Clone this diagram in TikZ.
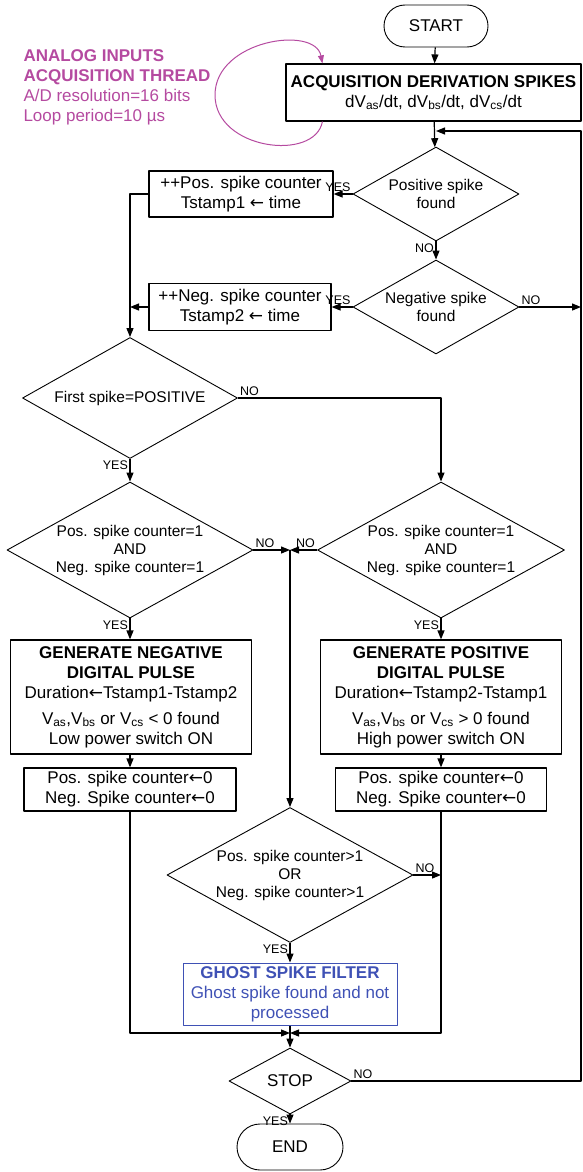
\documentclass[tikz,border=0pt]{standalone}
\usepackage{fontspec}
\setmainfont{Liberation Sans}
\newfontfamily\arrowfont{DejaVu Sans}
\newcommand{\getsarrow}{{\arrowfont ←}}
\usetikzlibrary{shapes.geometric,arrows.meta}
\definecolor{threadpink}{RGB}{181,74,160}
\definecolor{ghostblue}{RGB}{63,81,181}

\begin{document}
\begin{tikzpicture}[x=1pt, y=-1pt, line join=round, >={Triangle[length=9pt,width=7pt]},
  box/.style={draw, line width=1.2pt, align=center, inner sep=2pt, font=\fontsize{17}{20}\selectfont},
  decision/.style={draw, diamond, aspect=1.8, inner sep=0pt, line width=0.9pt, align=center, font=\fontsize{15.5}{18}\selectfont},
  terminal/.style={draw, rectangle, rounded corners=21pt, line width=0.9pt, minimum width=104pt, minimum height=42pt, font=\fontsize{17}{20}\selectfont},
  lbl/.style={font=\fontsize{12.5}{13}\selectfont, inner sep=1.5pt},
  arr/.style={->, line width=1.2pt}]
  \useasboundingbox (0,0) rectangle (582,1172);

  % Start and acquisition
  \node[terminal] (start) at (436,26) {START};
  \node[box, minimum width=295pt, minimum height=57pt] (acq) at (433.5,92.5)
    {\textbf{ACQUISITION DERIVATION SPIKES}\\dV\textsubscript{as}/dt, dV\textsubscript{bs}/dt, dV\textsubscript{cs}/dt};
  \node[anchor=west, align=left, text=threadpink, font=\fontsize{17}{20}\selectfont] (thread) at (20,87)
    {\textbf{ANALOG INPUTS}\\\textbf{ACQUISITION THREAD}\\A/D resolution=16 bits\\Loop period=10 µs};
  \draw[threadpink, line width=1pt, -{Triangle[length=8pt,width=6pt]}]
    ([xshift=37pt]acq.south west) .. controls (315,162) and (215,150) .. (215,95)
    .. controls (215,40) and (315,25) .. ([xshift=37pt]acq.north west);

  % Spike detection
  \node[decision, minimum width=166pt, minimum height=94pt] (pos) at (436,194) {Positive spike\\found};
  \node[box, minimum width=184pt, minimum height=46pt] (posinc) at (241,194) {++Pos. spike counter\\Tstamp1 \getsarrow\ time};
  \node[decision, minimum width=166pt, minimum height=94pt] (neg) at (436,307) {Negative spike\\found};
  \node[box, minimum width=182pt, minimum height=47pt] (neginc) at (240,307) {++Neg. spike counter\\Tstamp2 \getsarrow\ time};

  % Polarity tests
  \node[decision, minimum width=215pt, minimum height=121pt] (first) at (130,398) {First spike=POSITIVE};
  \node[decision, minimum width=246pt, minimum height=136pt] (chkL) at (130,550) {Pos. spike counter=1\\AND\\Neg. spike counter=1};
  \node[decision, minimum width=247pt, minimum height=136pt] (chkR) at (441,550) {Pos. spike counter=1\\AND\\Neg. spike counter=1};

  % Pulses
  \node[box, minimum width=241pt, minimum height=114pt] (pulseN) at (131,697)
    {\textbf{GENERATE NEGATIVE}\\\textbf{DIGITAL PULSE}\\Duration\getsarrow Tstamp1-Tstamp2\\[6pt]V\textsubscript{as},V\textsubscript{bs} or V\textsubscript{cs} < 0 found\\Low power switch ON};
  \node[box, minimum width=241pt, minimum height=114pt] (pulseP) at (441,697)
    {\textbf{GENERATE POSITIVE}\\\textbf{DIGITAL PULSE}\\Duration\getsarrow Tstamp2-Tstamp1\\[6pt]V\textsubscript{as},V\textsubscript{bs} or V\textsubscript{cs} > 0 found\\High power switch ON};
  \node[box, minimum width=212pt, minimum height=43pt] (resetL) at (130,789.5) {Pos. spike counter\getsarrow 0\\Neg. Spike counter\getsarrow 0};
  \node[box, minimum width=211pt, minimum height=43pt] (resetR) at (441,789.5) {Pos. spike counter\getsarrow 0\\Neg. Spike counter\getsarrow 0};

  % Ghost filter and end
  \node[decision, minimum width=246pt, minimum height=135pt] (multi) at (290,875) {Pos. spike counter>1\\OR\\Neg. spike counter>1};
  \node[box, draw=ghostblue, text=ghostblue, line width=1pt, minimum width=214pt, minimum height=62pt] (ghost) at (290,994)
    {\textbf{GHOST SPIKE FILTER}\\Ghost spike found and not\\processed};
  \node[decision, minimum width=122pt, minimum height=66pt, font=\fontsize{17}{20}\selectfont] (stop) at (290,1081) {STOP};
  \node[terminal, minimum width=106pt, minimum height=46pt, rounded corners=23pt] (end) at (290,1147) {END};

  \coordinate (rail) at (581,131);
  \coordinate (backin) at (436,131);
  \coordinate (merge) at (290,550);
  \coordinate (collect) at (290,1033);

  % Connectors
  \draw[arr] (start) -- (acq);
  \draw[arr] (acq) -- (pos);
  \draw[arr] (pos.west) node[lbl, above left]{YES} -- (posinc.east);
  \draw[arr] (posinc.west) -| (first.north);
  \draw[arr] (pos.south) node[lbl, below left]{NO} -- (neg.north);
  \draw[arr] (neg.west) node[lbl, above left]{YES} -- (neginc.east);
  \draw[arr] (neginc.west) -- (neginc.west -| first.north);
  \draw[arr] (neg.east) node[lbl, above right]{NO} -- (neg.east -| rail);
  \draw[arr] (first.east) node[lbl, above right]{NO} -| (chkR.north);
  \draw[arr] (first.south) node[lbl, below left]{YES} -- (chkL.north);
  \draw[arr] (chkL.east) node[lbl, above right]{NO} -- (merge);
  \draw[arr] (chkR.west) node[lbl, above left]{NO} -- (merge);
  \draw[arr] (merge) -- (multi.north);
  \draw[arr] (chkL.south) node[lbl, below left]{YES} -- (pulseN.north -| chkL.south);
  \draw[arr] (chkR.south) node[lbl, below left]{YES} -- (pulseP.north);
  \draw[arr] (pulseN.south -| resetL.north) -- (resetL.north);
  \draw[arr] (pulseP.south) -- (resetR.north);
  \draw[arr] (resetL.south) |- (collect);
  \draw[arr] (resetR.south) |- (collect);
  \draw[arr] (multi.east) node[lbl, above right]{NO} -- (multi.east -| resetR.south);
  \draw[arr] (multi.south) node[lbl, below left]{YES} -- (ghost.north);
  \draw[line width=1.2pt] (ghost.south) -- (collect);
  \draw[arr] (collect) -- (stop.north);
  \draw[arr] (stop.south) node[lbl, below left]{YES} -- (end.north);
  \draw[arr] (stop.east) node[lbl, above right]{NO} -| (rail) -- (backin);
\end{tikzpicture}
\end{document}
